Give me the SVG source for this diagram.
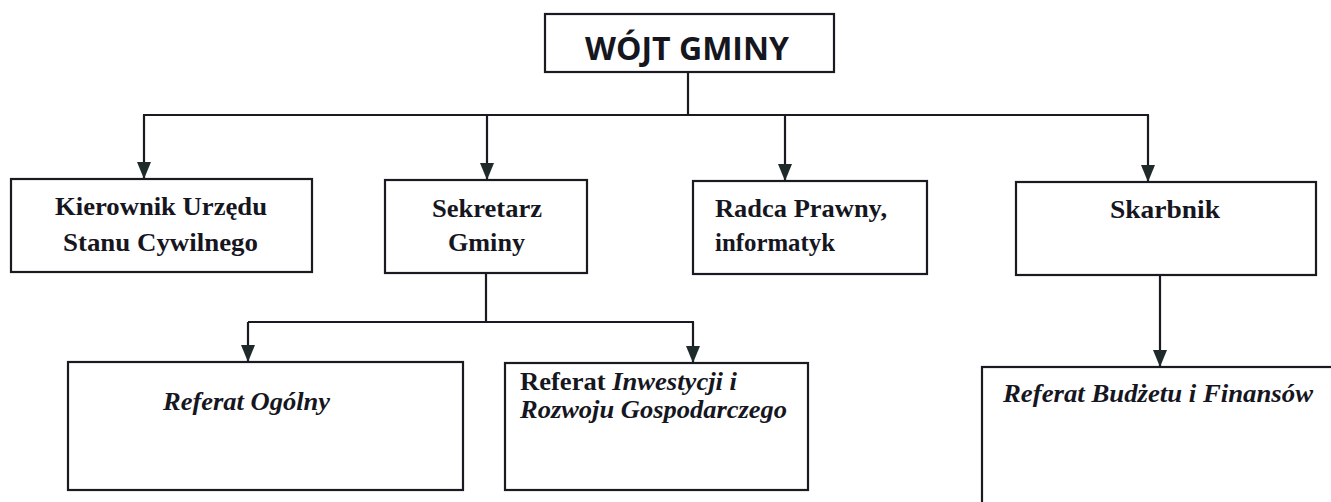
<svg xmlns="http://www.w3.org/2000/svg" width="1331" height="502" viewBox="0 0 1331 502">
<style>
.box{fill:#fff;stroke:#1a1a22;stroke-width:2.2}
.ln{fill:none;stroke:#1a1a22;stroke-width:2.2}
.t{font-family:"Liberation Serif","Times New Roman",serif;font-weight:bold;font-size:26px;fill:#16161f}
.i{font-style:italic}
.h{font-family:"Open Sans","Liberation Sans",Arial,sans-serif;font-weight:bold;font-size:33px;fill:#16161f}
</style>
<defs>
<marker id="ah" markerWidth="17" markerHeight="14" refX="17" refY="7" orient="auto" markerUnits="userSpaceOnUse" viewBox="0 0 17 14">
<path d="M0,0 L17,7 L0,14 Z" fill="#1f2a2a"/>
</marker>
</defs>
<rect width="1331" height="502" fill="#fff"/>
<g id="connectors">
<path class="ln" d="M688,72 V115"/>
<path class="ln" d="M143,115 H1149"/>
<path class="ln" d="M144,115 V179" marker-end="url(#ah)"/>
<path class="ln" d="M487,115 V180" marker-end="url(#ah)"/>
<path class="ln" d="M785,115 V181" marker-end="url(#ah)"/>
<path class="ln" d="M1148,115 V182" marker-end="url(#ah)"/>
<path class="ln" d="M486,273 V322 M248,322 H694"/>
<path class="ln" d="M248,322 V362" marker-end="url(#ah)"/>
<path class="ln" d="M693,322 V363" marker-end="url(#ah)"/>
<path class="ln" d="M1160,275 V367" marker-end="url(#ah)"/>
</g>
<g id="wojt">
<rect class="box" x="545" y="14" width="289" height="58"/>
<text class="h" x="687" y="60" text-anchor="middle" textLength="204" lengthAdjust="spacingAndGlyphs">WÓJT GMINY</text>
</g>
<g id="kierownik">
<rect class="box" x="11" y="179" width="301" height="93"/>
<text class="t" x="55" y="215" textLength="212" lengthAdjust="spacingAndGlyphs">Kierownik Urzędu</text>
<text class="t" x="63" y="251" textLength="195" lengthAdjust="spacingAndGlyphs">Stanu Cywilnego</text>
</g>
<g id="sekretarz">
<rect class="box" x="385" y="180" width="202" height="93"/>
<text class="t" x="432" y="217" textLength="110" lengthAdjust="spacingAndGlyphs">Sekretarz</text>
<text class="t" x="448" y="251" textLength="77" lengthAdjust="spacingAndGlyphs">Gminy</text>
</g>
<g id="radca">
<rect class="box" x="693" y="181" width="234" height="93"/>
<text class="t" x="715" y="217" textLength="172" lengthAdjust="spacingAndGlyphs">Radca Prawny,</text>
<text class="t" x="715" y="251" textLength="120" lengthAdjust="spacingAndGlyphs">informatyk</text>
</g>
<g id="skarbnik">
<rect class="box" x="1016" y="182" width="300" height="93"/>
<text class="t" x="1110" y="218" textLength="110" lengthAdjust="spacingAndGlyphs">Skarbnik</text>
</g>
<g id="ogolny">
<rect class="box" x="68" y="362" width="395" height="128"/>
<text class="t i" x="163" y="410" textLength="167" lengthAdjust="spacingAndGlyphs">Referat Ogólny</text>
</g>
<g id="inwestycji">
<rect class="box" x="505" y="363" width="303" height="127"/>
<text class="t" x="520" y="390" textLength="217" lengthAdjust="spacingAndGlyphs">Referat <tspan class="i">Inwestycji i</tspan></text>
<text class="t i" x="520" y="418" textLength="267" lengthAdjust="spacingAndGlyphs">Rozwoju Gospodarczego</text>
</g>
<g id="budzet">
<rect class="box" x="982" y="367" width="360" height="150"/>
<text class="t i" x="1003" y="402" textLength="310" lengthAdjust="spacingAndGlyphs">Referat Budżetu i Finansów</text>
</g>
</svg>
